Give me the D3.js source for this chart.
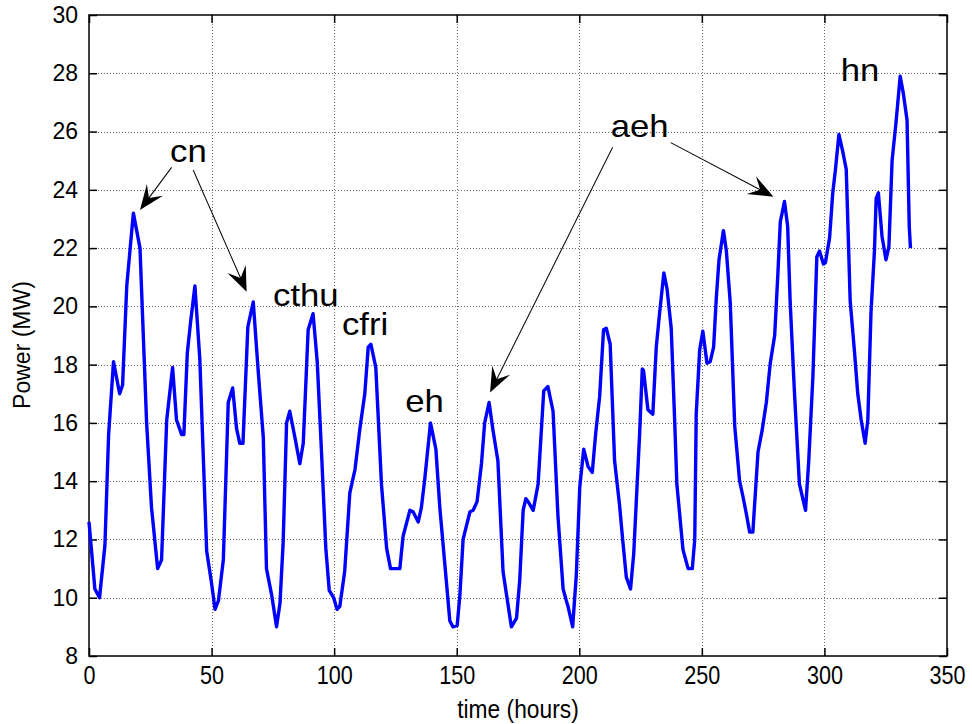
<!DOCTYPE html>
<html>
<head>
<meta charset="utf-8">
<script src="https://cdn.jsdelivr.net/npm/d3@7"></script>
<style>
  body { margin: 0; background: #fff; }
  text { font-family: "Liberation Sans", Arial, sans-serif; fill: #000; }
</style>
</head>
<body>
<svg id="chart" width="972" height="724"></svg>
<script>
// hours / power
var hours = [0, 2.4, 4.3, 6.5, 8, 10, 12.5, 13.7, 15.4, 18.1, 20.8, 23.5, 25.5, 28, 29.6, 31.7, 34.1, 35.7, 37.8, 38.7,
  40.1, 41.5, 43.2, 45.2, 48, 50, 51.4, 52.8, 54.8, 56.8, 58.6, 60.2, 61.5, 62.8, 64.8, 67, 69, 71.1, 72.4, 74.5,
  76.5, 77.9, 79.2, 80.6, 81.9, 84, 86, 87.4, 89.4, 91.4, 93.1, 94.9, 96.6, 98, 99.8, 101.2, 102.3, 104.3, 106.4, 108.5,
  110.5, 112.5, 113.9, 115, 117, 119.3, 121.4, 123, 126.8, 128.1, 130.9, 132.2, 134.3, 135.6, 137, 139.3, 141.5, 143.1, 145.1, 147.2,
  148.5, 150.2, 151.3, 152.6, 155.4, 156.7, 158.3, 160.1, 161.4, 163.2, 164.8, 166.8, 168.9, 170.5, 172.3, 174.4, 175.7, 177.1, 178.2, 179.1,
  181.2, 183.2, 185.5, 187.2, 189.3, 191.3, 193.4, 194.7, 195.4, 197.3, 198.8, 200.2, 201.8, 203.6, 205.3, 206.7, 208.3, 209.9, 211, 212.6,
  214.4, 216.4, 217.8, 219.2, 220.9, 222.2, 224.6, 225.7, 226.2, 228, 230, 231.4, 232.8, 234.5, 235.8, 237.5, 238.9, 239.8, 242.3, 244.4,
  246.1, 247.1, 247.7, 249.1, 250.4, 252.1, 253.4, 254.8, 255.9, 257, 258.8, 260, 261.6, 263.4, 265.4, 266.7, 268.1, 269.5, 270.8, 272.9,
  274.6, 276.3, 277.9, 279.7, 281, 282, 283.7, 285, 286, 287.8, 289.8, 292.3, 293.6, 295.3, 296.9, 298, 299.6, 300.4, 302.1, 303.4,
  304.5, 305.9, 307.5, 308.9, 310.5, 312.3, 313.6, 315, 316.6, 317.7, 319, 320.4, 321.1, 322, 323.5, 325.1, 326.3, 327.6, 329.3, 330.9,
  332.2, 333.7, 334.6, 335.1];
var power = [12.6, 10.3, 10.0, 11.8, 15.6, 18.1, 17.0, 17.3, 20.7, 23.2, 22.0, 16.0, 13.1, 11.0, 11.3, 16.1, 17.9, 16.1, 15.6, 15.6,
  18.4, 19.5, 20.7, 18.2, 11.6, 10.5, 9.6, 9.9, 11.3, 16.7, 17.2, 15.8, 15.3, 15.3, 19.3, 20.15, 17.8, 15.5, 11.0, 10.1,
  9.0, 9.8, 11.9, 16.0, 16.4, 15.5, 14.6, 15.3, 19.2, 19.75, 18.1, 14.9, 11.7, 10.25, 10.0, 9.6, 9.7, 10.9, 13.6, 14.4,
  15.8, 17.0, 18.6, 18.7, 17.9, 13.9, 11.7, 11.0, 11.0, 12.1, 13.0, 12.95, 12.6, 13.1, 14.1, 16.0, 15.1, 13.1, 11.2, 9.2,
  9.0, 9.05, 10.1, 12.0, 12.95, 13.0, 13.3, 14.6, 16.0, 16.7, 15.75, 14.7, 10.9, 10.0, 9.0, 9.3, 10.6, 13.0, 13.4, 13.3,
  13.0, 13.9, 17.1, 17.25, 16.4, 12.8, 10.3, 9.9, 9.7, 9.0, 10.8, 13.8, 15.1, 14.5, 14.3, 15.65, 16.9, 19.2, 19.25, 18.7,
  14.7, 13.2, 11.9, 10.7, 10.3, 11.5, 15.6, 17.85, 17.8, 16.45, 16.3, 18.6, 19.8, 21.15, 20.6, 19.25, 16.1, 13.9, 11.65, 11.0,
  11.0, 12.0, 16.3, 18.5, 19.15, 18.05, 18.1, 18.6, 20.3, 21.6, 22.6, 21.9, 20.1, 15.9, 14.0, 13.5, 12.9, 12.25, 12.25, 15.0,
  15.75, 16.7, 18.05, 19.0, 21.1, 22.9, 23.6, 22.75, 20.2, 17.0, 13.9, 13.0, 14.7, 17.6, 21.7, 21.9, 21.45, 21.5, 22.35, 23.9,
  24.7, 25.9, 25.3, 24.7, 20.2, 18.4, 17.0, 16.1, 15.3, 16.1, 19.8, 21.9, 23.7, 23.9, 22.4, 21.6, 22.05, 25.0, 26.4, 27.9,
  27.3, 26.4, 22.75, 22.0];

var xTicks = [0, 50, 100, 150, 200, 250, 300, 350];
var yTicks = [8, 10, 12, 14, 16, 18, 20, 22, 24, 26, 28, 30];

// labels: text, x (hours), baseline (MW)
var labels = [
  ["cn", 33.9, 24.95],
  ["cthu", 75.9, 20.02],
  ["cfri", 104.0, 19.02],
  ["eh", 129.8, 16.36],
  ["aeh", 213.6, 25.82],
  ["hn", 307.5, 27.75]
];
// arrows: from (hours, MW) to (hours, MW)
var arrows = [
  [33.7, 24.77, 20.8, 23.31],
  [42.5, 24.68, 64.3, 20.50],
  [213.6, 25.46, 163.6, 17.04],
  [237.3, 25.62, 279.2, 23.76]
];

var plotL = 89, plotR = 947, plotT = 15, plotB = 656;

var svg = d3.select("#chart");
svg.append("rect").attr("width", 972).attr("height", 724).attr("fill", "#fff");

var x = d3.scaleLinear().domain([0, 350]).range([plotL, plotR]);
var y = d3.scaleLinear().domain([8, 30]).range([plotB, plotT]);

// grid (dotted, like matlab "grid on")
var grid = svg.append("g").attr("stroke", "#666").attr("stroke-width", 1).attr("stroke-dasharray", "1,2");
grid.selectAll(".gx").data(xTicks.slice(1, -1)).enter().append("line")
  .attr("x1", function(d) { return Math.round(x(d)) + 0.5; })
  .attr("x2", function(d) { return Math.round(x(d)) + 0.5; })
  .attr("y1", plotT).attr("y2", plotB);
grid.selectAll(".gy").data(yTicks.slice(1, -1)).enter().append("line")
  .attr("y1", function(d) { return Math.round(y(d)) + 0.5; })
  .attr("y2", function(d) { return Math.round(y(d)) + 0.5; })
  .attr("x1", plotL).attr("x2", plotR);

// axes, ticks pointing inside on all four sides
var tk = 8;
svg.append("g").attr("transform", "translate(0," + plotB + ")")
  .call(d3.axisBottom(x).tickValues(xTicks).tickSizeInner(-tk).tickSizeOuter(0).tickPadding(8))
  .call(function(g) {
    g.select(".domain").remove();
    g.selectAll("text").attr("font-size", 24).attr("font-family", "Liberation Sans, Arial, sans-serif")
      .attr("transform", "scale(0.9,1.1)");
  });
svg.append("g").attr("transform", "translate(0," + plotT + ")")
  .call(d3.axisTop(x).tickValues(xTicks).tickSizeInner(-tk).tickSizeOuter(0).tickFormat(""))
  .call(function(g) { g.select(".domain").remove(); });
svg.append("g").attr("transform", "translate(" + plotL + ",0)")
  .call(d3.axisLeft(y).tickValues(yTicks).tickSizeInner(-tk).tickSizeOuter(0).tickPadding(11))
  .call(function(g) {
    g.select(".domain").remove();
    g.selectAll("text").attr("font-size", 23).attr("font-family", "Liberation Sans, Arial, sans-serif");
  });
svg.append("g").attr("transform", "translate(" + plotR + ",0)")
  .call(d3.axisRight(y).tickValues(yTicks).tickSizeInner(-tk).tickSizeOuter(0).tickFormat(""))
  .call(function(g) { g.select(".domain").remove(); });
svg.selectAll(".tick line").attr("stroke", "#000").attr("stroke-width", 1.5);

svg.append("rect")
  .attr("x", plotL).attr("y", plotT).attr("width", plotR - plotL).attr("height", plotB - plotT)
  .attr("fill", "none").attr("stroke", "#000").attr("stroke-width", 1.5);

// the series
var pts = hours.map(function(h, i) { return [h, power[i]]; });
var line = d3.line().x(function(d) { return x(d[0]); }).y(function(d) { return y(d[1]); });
svg.append("path").datum(pts)
  .attr("d", line)
  .attr("fill", "none").attr("stroke", "#0000ff").attr("stroke-width", 3.4)
  .attr("stroke-linejoin", "round");

// axis titles
svg.append("text").text("time (hours)")
  .attr("transform", "translate(518,718) scale(0.95,1.08)").attr("text-anchor", "middle").attr("font-size", 24);
svg.append("text").text("Power (MW)")
  .attr("transform", "translate(30,345) rotate(-90)").attr("text-anchor", "middle").attr("font-size", 23);

// annotations
svg.selectAll(".lab").data(labels).enter().append("text")
  .attr("class", "lab")
  .text(function(d) { return d[0]; })
  .attr("transform", function(d) { return "translate(" + (x(d[1]) - 2) + "," + y(d[2]) + ") scale(1.12,1)"; })
  .attr("font-size", 31);

var hl = 25, hw = 10;
arrows.forEach(function(a) {
  var x1 = x(a[0]), y1 = y(a[1]), x2 = x(a[2]), y2 = y(a[3]);
  var ang = Math.atan2(y2 - y1, x2 - x1);
  var len = Math.hypot(x2 - x1, y2 - y1);
  var g = svg.append("g")
    .attr("transform", "translate(" + x2 + "," + y2 + ") rotate(" + (ang * 180 / Math.PI) + ")");
  g.append("line").attr("x1", -len).attr("y1", 0).attr("x2", -hl * 0.6).attr("y2", 0)
    .attr("stroke", "#000").attr("stroke-width", 1);
  g.append("path")
    .attr("d", "M0,0 L" + (-hl) + "," + (-hw) + " L" + (-hl * 0.6) + ",0 L" + (-hl) + "," + hw + "Z")
    .attr("fill", "#000");
});
</script>
</body>
</html>
